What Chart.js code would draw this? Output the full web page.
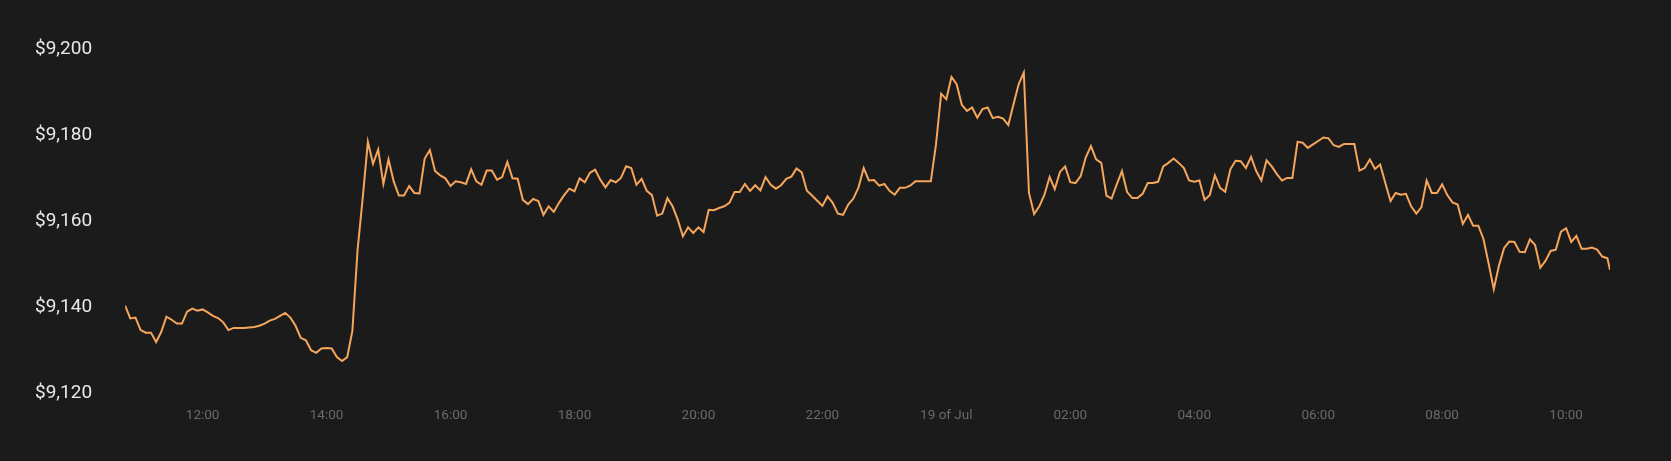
<!DOCTYPE html>
<html>
<head>
<meta charset="utf-8">
<script src="https://cdn.jsdelivr.net/npm/chart.js@4"></script>
<style>
  html, body { margin: 0; padding: 0; background: #1c1b1c; }
  #wrap { width: 1671px; height: 461px; }
</style>
</head>
<body>
<div id="wrap"><canvas id="priceChart"></canvas></div>
<script>
// minutes since 00:00 on 18 Jul, one quote every 5 min, plus the latest quote
const START_MIN = 645;
const STEP_MIN = 5;
const LAST_MIN = 2082.5;

// price in USD
const prices = [
  9140.3, 9137.3, 9137.5, 9134.6, 9134.0, 9134.0, 9131.8, 9134.2, 9137.7, 9137.0,
  9136.1, 9136.1, 9138.9, 9139.6, 9139.1, 9139.4, 9138.7, 9137.9, 9137.4, 9136.4,
  9134.6, 9135.1, 9135.1, 9135.1, 9135.2, 9135.3, 9135.6, 9136.1, 9136.8, 9137.2,
  9137.9, 9138.6, 9137.5, 9135.6, 9132.8, 9132.2, 9129.9, 9129.3, 9130.3, 9130.4,
  9130.3, 9128.3, 9127.4, 9128.3, 9134.4, 9153.2, 9165.3, 9178.4, 9173.3, 9176.6,
  9168.6, 9174.3, 9169.2, 9165.9, 9165.9, 9168.1, 9166.5, 9166.4, 9174.5, 9176.5,
  9171.6, 9170.6, 9169.9, 9168.1, 9169.2, 9169.0, 9168.6, 9172.0, 9169.2, 9168.4,
  9171.7, 9171.7, 9169.6, 9170.2, 9173.7, 9169.9, 9169.8, 9164.9, 9163.9, 9165.1,
  9164.6, 9161.4, 9163.4, 9162.1, 9164.2, 9166.0, 9167.5, 9166.9, 9169.9, 9169.0,
  9171.2, 9171.9, 9169.6, 9167.8, 9169.5, 9169.0, 9170.0, 9172.7, 9172.3, 9168.4,
  9169.8, 9167.0, 9166.0, 9161.2, 9161.7, 9165.3, 9163.4, 9160.3, 9156.4, 9158.5,
  9157.2, 9158.5, 9157.4, 9162.6, 9162.5, 9163.0, 9163.4, 9164.2, 9166.7, 9166.7,
  9168.6, 9167.0, 9168.3, 9167.1, 9170.2, 9168.4, 9167.5, 9168.3, 9169.8, 9170.3,
  9172.2, 9171.3, 9167.0, 9165.9, 9164.7, 9163.5, 9165.7, 9164.2, 9161.7, 9161.4,
  9163.8, 9165.2, 9167.8, 9172.3, 9169.4, 9169.5, 9168.2, 9168.6, 9167.0, 9166.1,
  9167.7, 9167.7, 9168.2, 9169.2, 9169.2, 9169.2, 9169.2, 9177.8, 9189.6, 9188.3,
  9193.5, 9191.8, 9187.0, 9185.6, 9186.4, 9184.0, 9186.0, 9186.4, 9183.9, 9184.2,
  9183.8, 9182.3, 9187.1, 9191.8, 9194.5, 9166.5, 9161.6, 9163.4, 9166.1, 9170.2,
  9167.4, 9171.4, 9172.7, 9169.0, 9168.8, 9170.4, 9174.8, 9177.4, 9174.3, 9173.5,
  9165.9, 9165.2, 9168.5, 9171.6, 9166.7, 9165.3, 9165.3, 9166.3, 9168.8, 9168.8,
  9169.1, 9172.7, 9173.5, 9174.5, 9173.5, 9172.3, 9169.4, 9169.1, 9169.4, 9164.9,
  9166.0, 9170.6, 9167.7, 9166.8, 9172.0, 9174.0, 9173.9, 9172.3, 9174.9, 9171.6,
  9169.4, 9174.1, 9172.7, 9170.9, 9169.4, 9170.0, 9170.0, 9178.4, 9178.2, 9177.0,
  9177.8, 9178.6, 9179.4, 9179.2, 9177.6, 9177.2, 9177.9, 9177.9, 9177.9, 9171.7,
  9172.3, 9174.3, 9172.1, 9173.1, 9168.8, 9164.6, 9166.5, 9166.1, 9166.3, 9163.4,
  9161.7, 9163.2, 9169.4, 9166.5, 9166.5, 9168.5, 9166.0, 9164.3, 9163.8, 9159.3,
  9161.4, 9158.9, 9158.9, 9155.8, 9150.1, 9144.1, 9149.6, 9153.7, 9155.2, 9155.1,
  9152.8, 9152.7, 9155.7, 9154.4, 9149.1, 9150.7, 9153.0, 9153.3, 9157.5, 9158.3,
  9155.1, 9156.5, 9153.5, 9153.5, 9153.8, 9153.3, 9151.7, 9151.3, 9148.6
];

const yTicks = [9120, 9140, 9160, 9180, 9200];
const xTickValues = [720, 840, 960, 1080, 1200, 1320, 1440, 1560, 1680, 1800, 1920, 2040];
const xTickLabels = ['12:00', '14:00', '16:00', '18:00', '20:00', '22:00', '19 of Jul',
  '02:00', '04:00', '06:00', '08:00', '10:00'];

const points = prices.map((p, i) => ({
  x: i === prices.length - 1 ? LAST_MIN : START_MIN + i * STEP_MIN,
  y: p
}));

new Chart(document.getElementById('priceChart'), {
  type: 'line',
  data: {
    datasets: [{
      data: points,
      borderColor: '#f6a65a',
      borderWidth: 2,
      pointRadius: 0,
      tension: 0,
      fill: false
    }]
  },
  options: {
    responsive: true,
    maintainAspectRatio: false,
    animation: false,
    layout: { padding: { left: 2, right: 61, top: 49, bottom: 22 } },
    plugins: { legend: { display: false }, tooltip: { enabled: false } },
    scales: {
      x: {
        type: 'linear',
        min: START_MIN,
        max: LAST_MIN,
        grid: { display: false, drawTicks: false },
        border: { display: false },
        afterBuildTicks: s => { s.ticks = xTickValues.map(v => ({ value: v })); },
        ticks: {
          autoSkip: false,
          maxRotation: 0,
          padding: 15,
          color: '#6a6a6a',
          font: { family: 'Roboto', size: 13.5 },
          callback: v => xTickLabels[xTickValues.indexOf(v)]
        }
      },
      y: {
        min: 9120,
        max: 9200,
        grid: { display: false, drawTicks: false },
        border: { display: false },
        afterBuildTicks: s => { s.ticks = yTicks.map(v => ({ value: v })); },
        ticks: {
          padding: 33,
          color: '#e8e8e8',
          font: { family: 'Roboto', size: 19 },
          callback: v => '$' + v.toLocaleString('en-US')
        }
      }
    }
  }
});
</script>
</body>
</html>
